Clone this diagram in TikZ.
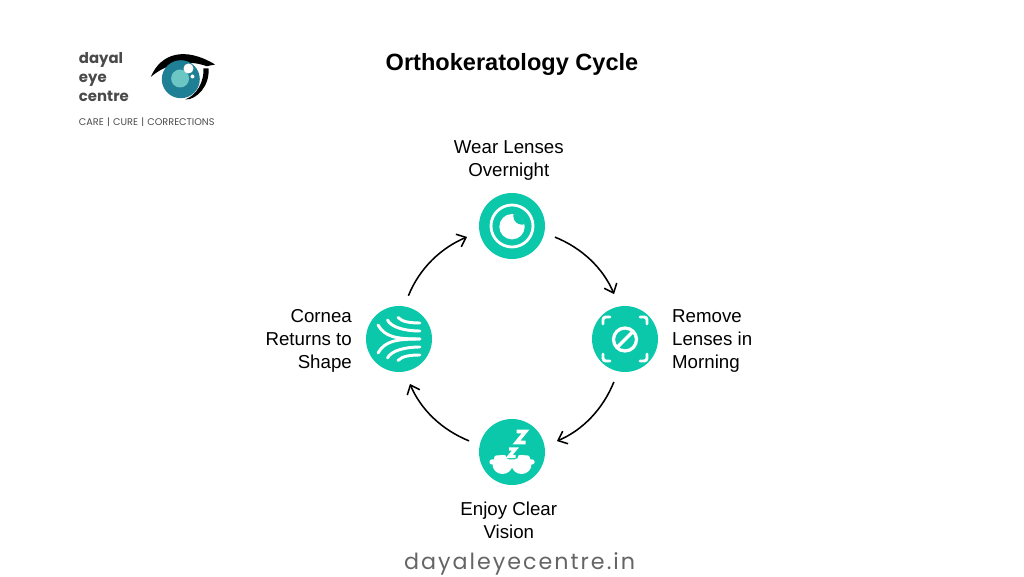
\documentclass[tikz,border=0pt]{standalone}
\usepackage{fontspec}
\setmainfont{Liberation Sans}
\newfontfamily\logofont{Poppins}
\newfontfamily\sitefont[LetterSpace=9]{Poppins}
\usetikzlibrary{arrows.meta}
\definecolor{stepteal}{HTML}{0CC8AB}
\definecolor{irisblue}{HTML}{1F7F95}
\definecolor{pupilteal}{HTML}{6CC6C4}
\definecolor{logogrey}{HTML}{4A4A4A}
\tikzset{
    stepdisc/.style={circle,fill=stepteal,minimum size=1.65cm,inner sep=0pt},
    steptext/.style={font=\fontsize{13.3}{16.3}\selectfont},
    cyclearrow/.style={line width=1.1pt,-{Straight Barb[length=2mm,width=3.4mm]},shorten >=0.33cm,shorten <=0.28cm},
    iconline/.style={white,line width=2.1pt,line cap=round,line join=round},
    iconscope/.style={x=0.025cm,y=0.025cm}
}
\begin{document}
\begin{tikzpicture}
    \useasboundingbox (0,0) rectangle (25.6,14.4);
    \node[font=\fontsize{16.75}{20}\selectfont\bfseries] (title) at (12.8,12.8) {Orthokeratology Cycle};

    % logo
    \node[anchor=west,align=left,text=logogrey,font=\fontsize{10.6}{13.6}\selectfont\logofont\bfseries] (logoname) at (1.85,12.47) {dayal\\eye\\centre};
    \node[anchor=west,text=logogrey,font=\fontsize{6.9}{8}\selectfont\logofont] (logotag) at (1.85,11.35) {CARE\,\,|\,\,CURE\,\,|\,\,CORRECTIONS};
    \begin{scope}[shift={(4.52,12.42)},iconscope]
        \fill[black] (-30,2.3) .. controls (-20,26) and (4,33) .. (34.3,14.7) -- (26,13) .. controls (7,20) and (-14,16) .. (-30,2.3);
        \fill[black] (27.7,10.7) .. controls (29.3,-6) and (16,-21) .. (4.3,-20.3) .. controls (16,-16) and (23.3,-2.7) .. (22.7,10.7);
        \fill[irisblue] (0,0) circle (19);
        \fill[pupilteal] (-0.7,0.7) circle (9);
        \fill[white] (7.7,10.7) circle (5);
        \fill[white] (11.7,2.7) circle (2);
    \end{scope}

    % the four steps
    \node[stepdisc] (wear) at (12.8,8.75) {};
    \node[stepdisc] (remove) at (15.625,5.925) {};
    \node[stepdisc] (clear) at (12.8,3.1) {};
    \node[stepdisc] (cornea) at (9.975,5.925) {};

    \node[steptext,align=center] (weartext) at (12.72,10.38) {Wear Lenses\\Overnight};
    \node[steptext,align=left,anchor=west] (removetext) at (16.68,5.87) {Remove\\Lenses in\\Morning};
    \node[steptext,align=center] (cleartext) at (12.72,1.4) {Enjoy Clear\\Vision};
    \node[steptext,align=right,anchor=east] (corneatext) at (8.92,5.87) {Cornea\\Returns to\\Shape};

    \draw[cyclearrow] (wear.-12) to[out=-22,in=113] (remove.100);
    \draw[cyclearrow] (remove.258) to[out=-112,in=23] (clear.10);
    \draw[cyclearrow] (clear.168) to[out=158,in=-67] (cornea.-80);
    \draw[cyclearrow] (cornea.81) to[out=68,in=203] (wear.190);

    % icons
    \begin{scope}[shift={(wear)},iconscope]
        \draw[white,line width=2pt] (0,0) circle (21);
        \fill[white] (0,-0.7) circle (12.7);
        \begin{scope}
            \clip (0,-0.7) circle (13);
            \fill[stepteal] (10,10) circle (8.7);
        \end{scope}
    \end{scope}
    \begin{scope}[shift={(remove)},iconscope]
        \draw[iconline,rounded corners=2pt] (-22,15) -- (-22,22) -- (-15,22);
        \draw[iconline,rounded corners=2pt] (15,22) -- (22,22) -- (22,15);
        \draw[iconline,rounded corners=2pt] (22,-15) -- (22,-22) -- (15,-22);
        \draw[iconline,rounded corners=2pt] (-15,-22) -- (-22,-22) -- (-22,-15);
        \draw[white,line width=2.3pt] (0,-0.5) circle (11.5);
        \draw[white,line width=2.3pt] (-8,-8.5) -- (8,7.5);
    \end{scope}
    \begin{scope}[shift={(clear)},iconscope]
        \fill[white] (-9.5,-12.5) ellipse (10 and 9.5);
        \fill[white] (9.5,-12.5) ellipse (10 and 9.5);
        \fill[white,rounded corners=2pt] (-18,-3.3) rectangle (18,-12);
        \fill[white,rounded corners=1.5pt] (-22.5,-7.5) rectangle (22.5,-12.5);
        \fill[stepteal,rounded corners=3pt] (-6.5,5.5) rectangle (6.5,-7.5);
        \draw[white,line width=2.3pt,line join=miter] (-3,3) -- (3.5,3) -- (-3,-4.5) -- (3.5,-4.5);
        \draw[white,line width=2.6pt,line join=miter] (4.5,20.5) -- (13.5,20.5) -- (4.5,9.5) -- (13.5,9.5);
    \end{scope}
    \begin{scope}[shift={(cornea)},iconscope]
        \draw[iconline] (-1,21.5) .. controls (3,17) and (12,16) .. (21,16);
        \draw[iconline] (-11.5,19) .. controls (-8,12) and (5,8) .. (21,8);
        \draw[iconline] (-21,14) .. controls (-14,2) and (-3,0) .. (21,0);
        \draw[iconline] (-21,-14) .. controls (-14,-2) and (-3,0) .. (21,0);
        \draw[iconline] (-11.5,-19) .. controls (-8,-12) and (5,-8) .. (21,-8);
        \draw[iconline] (-1,-21.5) .. controls (3,-17) and (12,-16) .. (21,-16);
    \end{scope}

    \node[inner sep=0pt,text=logogrey!85,font=\fontsize{15.8}{20}\selectfont\sitefont] (site) at (12.99,0.29) {dayaleyecentre.in};
\end{tikzpicture}
\end{document}
